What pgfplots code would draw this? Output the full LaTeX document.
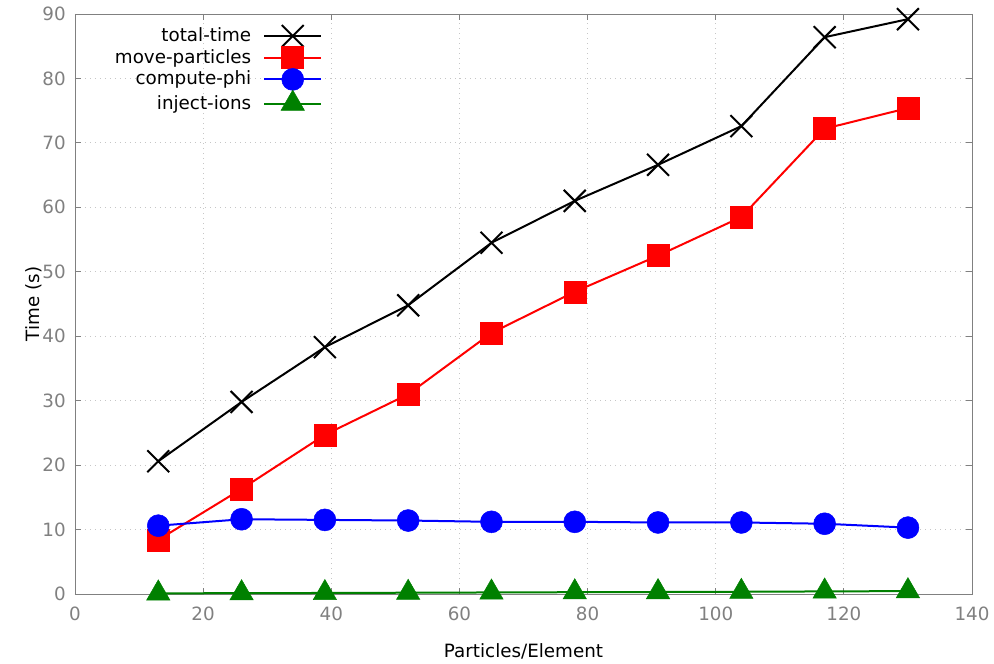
\documentclass[border=0pt]{standalone}
\usepackage{pgfplots}
\pgfplotsset{compat=1.18}
\usepackage{fontspec}
\setmainfont{DejaVu Sans}
\definecolor{gpgreen}{HTML}{008000}
\definecolor{gpgray}{HTML}{808080}
\newcommand\fs{\fontsize{18.3}{22}\selectfont}
\begin{document}
\fs
\begin{tikzpicture}
\begin{axis}[
  scale only axis,
  width=897pt, height=580pt,
  xmin=0, xmax=140, ymin=0, ymax=90,
  xtick={0,20,...,140}, ytick={0,10,...,90},
  tick align=inside,
  major tick length=6pt,
  axis line style={gpgray, line width=0.8pt},
  tick style={gpgray, line width=0.8pt},
  ticklabel style={gpgray, font=\fs},
  xticklabel style={yshift=-7pt},
  yticklabel style={xshift=-3pt},
  /pgf/number format/assume math mode=true,
  grid=major,
  major grid style={gpgray!45, line width=0.8pt, dash pattern=on 1pt off 4pt},
  xlabel={Particles/Element},
  ylabel={Time (s)},
  label style={font=\fs, black},
  xlabel style={yshift=-10pt},
  ylabel style={yshift=-12pt},
  legend plot pos=right,
  legend cell align=right,
  legend style={draw=none, fill=none, at={(0.041,0.983)}, anchor=north west,
    font=\fs, row sep=-0.3pt, inner sep=1pt},
  legend image code/.code={%
    \path (0pt,0pt);
    \draw[mark repeat=2, mark phase=2, #1] plot coordinates {(10pt,0pt) (38.5pt,0pt) (67pt,0pt)};},
]
\addplot[black, line width=2pt, mark=x, mark size=15.5pt, mark options={line width=2pt}]
  coordinates {(13,20.6) (26,29.8) (39,38.3) (52,44.8) (65,54.5) (78,61.0) (91,66.6) (104,72.6) (117,86.4) (130,89.2)};
\addlegendentry{total-time}
\addplot[red, line width=2pt, mark=square*, mark size=11pt, mark options={fill=red, line width=0.5pt}]
  coordinates {(13,8.4) (26,16.3) (39,24.7) (52,31.0) (65,40.5) (78,46.9) (91,52.5) (104,58.5) (117,72.2) (130,75.4)};
\addlegendentry{move-particles}
\addplot[blue, line width=2pt, mark=*, mark size=11pt, mark options={fill=blue, line width=0.5pt}]
  coordinates {(13,10.6) (26,11.6) (39,11.5) (52,11.4) (65,11.2) (78,11.2) (91,11.1) (104,11.1) (117,10.9) (130,10.3)};
\addlegendentry{compute-phi}
\addplot[gpgreen, line width=2pt, mark=triangle*, mark size=13.5pt, mark options={fill=gpgreen, line width=0.5pt}]
  coordinates {(13,0.1) (26,0.13) (39,0.16) (52,0.2) (65,0.24) (78,0.28) (91,0.31) (104,0.35) (117,0.4) (130,0.45)};
\addlegendentry{inject-ions}
\end{axis}
\pgfresetboundingbox
\path[use as bounding box] (-75pt,-70pt) rectangle (919pt,594pt);
\end{tikzpicture}
\end{document}
